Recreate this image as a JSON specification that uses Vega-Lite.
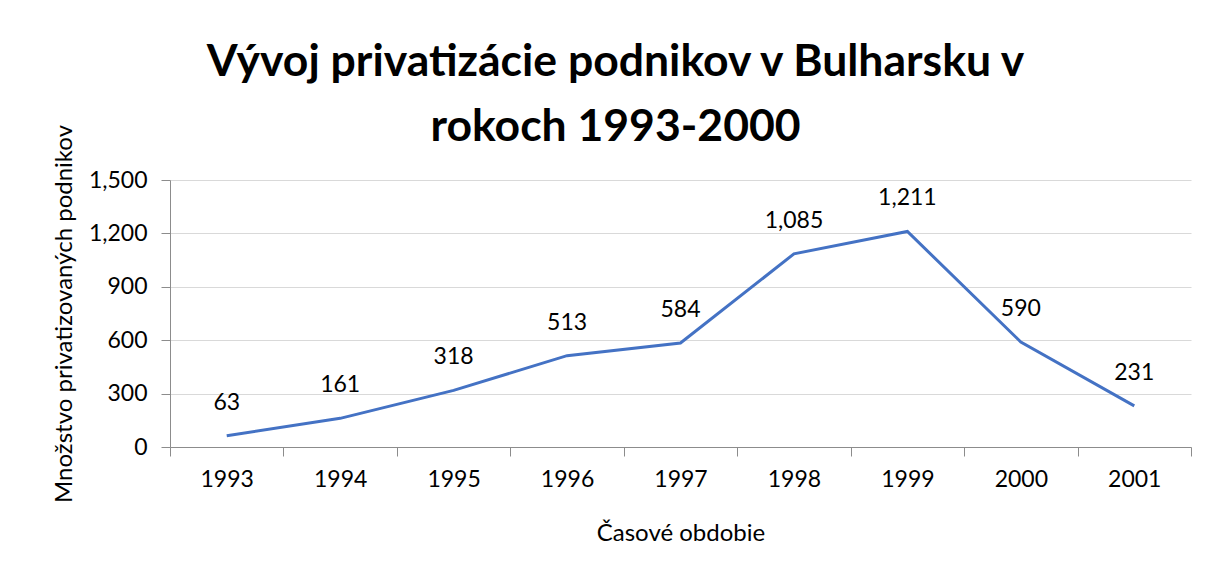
{
  "$schema": "https://vega.github.io/schema/vega-lite/v6.json",
  "width": 1021,
  "height": 267,
  "autosize": "none",
  "padding": {"left": 170, "top": 180, "right": 26, "bottom": 118},
  "background": "white",
  "title": {
    "text": ["Vývoj privatizácie podnikov v Bulharsku v", "rokoch 1993-2000"],
    "font": "Lato",
    "fontSize": 44.5,
    "fontWeight": "bold",
    "color": "black",
    "lineHeight": 65,
    "anchor": "middle",
    "dx": -65,
    "offset": -26
  },
  "data": {
    "values": [
      {"rok": "1993", "pocet": 63},
      {"rok": "1994", "pocet": 161},
      {"rok": "1995", "pocet": 318},
      {"rok": "1996", "pocet": 513},
      {"rok": "1997", "pocet": 584},
      {"rok": "1998", "pocet": 1085},
      {"rok": "1999", "pocet": 1211},
      {"rok": "2000", "pocet": 590},
      {"rok": "2001", "pocet": 231}
    ]
  },
  "config": {
    "view": {"stroke": null},
    "axis": {
      "labelFont": "Lato",
      "titleFont": "Lato",
      "labelFontSize": 23,
      "titleFontSize": 24,
      "labelColor": "black",
      "titleColor": "black",
      "titleFontWeight": "normal",
      "domainColor": "#8c8c8c",
      "tickColor": "#8c8c8c",
      "gridColor": "#d9d9d9",
      "tickSize": 9
    }
  },
  "encoding": {
    "x": {
      "field": "rok",
      "type": "ordinal",
      "bandPosition": 0.5,
      "scale": {"type": "band", "paddingInner": 0, "paddingOuter": 0},
      "axis": {
        "title": "Časové obdobie",
        "labelAngle": 0,
        "tickBand": "extent",
        "labelPadding": 12,
        "titlePadding": 30,
        "grid": false
      }
    },
    "y": {
      "field": "pocet",
      "type": "quantitative",
      "scale": {"domain": [0, 1500]},
      "axis": {
        "title": "Množstvo privatizovaných podnikov",
        "values": [0, 300, 600, 900, 1200, 1500],
        "format": ",.0f",
        "labelPadding": 14,
        "titlePadding": 12,
        "grid": true
      }
    }
  },
  "layer": [
    {
      "mark": {"type": "line", "color": "#4472C4", "strokeWidth": 3}
    },
    {
      "mark": {"type": "text", "font": "Lato", "fontSize": 23, "color": "black", "baseline": "middle", "dy": -33},
      "encoding": {"text": {"field": "pocet", "type": "quantitative", "format": ",.0f"}}
    }
  ]
}
